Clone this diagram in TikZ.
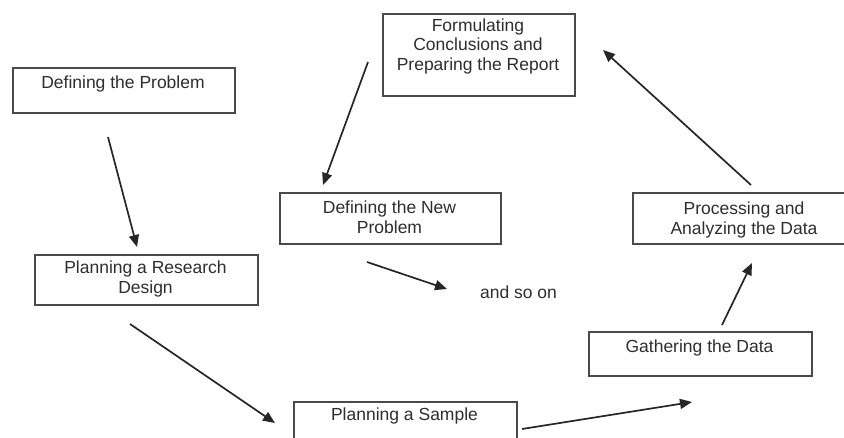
\documentclass[tikz,border=0pt]{standalone}
\usepackage{fontspec}
\setmainfont{Liberation Sans}
\usetikzlibrary{arrows.meta}
\definecolor{boxgray}{HTML}{4A4A4A}
\definecolor{txtgray}{HTML}{2E2E2E}
\definecolor{arrgray}{HTML}{262626}
\begin{document}
\begin{tikzpicture}[x=1pt,y=-1pt,
  box/.style={draw=boxgray, line width=1.6pt, fill=white, anchor=north west, inner sep=0pt},
  lbl/.style={text=txtgray, font=\fontsize{17.5}{19.5}\selectfont, align=center, inner sep=0pt},
  arr/.style={draw=arrgray, line width=1.7pt, -{Triangle[length=12pt,width=10pt]}}]
\useasboundingbox (0,0) rectangle (844,437);
\clip (0,0) rectangle (844,437);

% process boxes
\node[box, minimum width=222pt, minimum height=45pt] (define)   at (12,67)  {};
\node[box, minimum width=192pt, minimum height=82pt] (conclude) at (382,13) {};
\node[box, minimum width=221pt, minimum height=51pt] (newprob)  at (279,192) {};
\node[box, minimum width=224pt, minimum height=51pt] (process)  at (632,192) {};
\node[box, minimum width=223pt, minimum height=50pt] (design)   at (34,254) {};
\node[box, minimum width=223pt, minimum height=44pt] (gather)   at (588,331) {};
\node[box, minimum width=223pt, minimum height=50pt] (sample)   at (293,401) {};

% box captions
\node[lbl] (tdefine)   at (123,84)    {Defining the Problem};
\node[lbl] (tconclude) at (478,46)    {Formulating\\Conclusions and\\Preparing the Report};
\node[lbl] (tnewprob)  at (389.5,217) {Defining the New\\Problem};
\node[lbl] (tprocess)  at (744,220)   {Processing and\\Analyzing the Data};
\node[lbl] (tdesign)   at (145.5,279) {Planning a Research\\Design};
\node[lbl] (tgather)   at (699.5,348) {Gathering the Data};
\node[lbl] (tsample)   at (404.5,416) {Planning a Sample};
\node[lbl] (soon)      at (518.5,292) {and so on};

% arrow end points
\coordinate (a1s) at (108,137); \coordinate (a1e) at (137,247);
\coordinate (a2s) at (130,324); \coordinate (a2e) at (275,423);
\coordinate (a3s) at (522,429); \coordinate (a3e) at (692,402);
\coordinate (a4s) at (722,325); \coordinate (a4e) at (752,263);
\coordinate (a5s) at (751,185); \coordinate (a5e) at (603,50);
\coordinate (a6s) at (368,62);  \coordinate (a6e) at (323,185);
\coordinate (a7s) at (367,262); \coordinate (a7e) at (447,289);

\draw[arr] (a1s) -- (a1e);
\draw[arr] (a2s) -- (a2e);
\draw[arr] (a3s) -- (a3e);
\draw[arr] (a4s) -- (a4e);
\draw[arr] (a5s) -- (a5e);
\draw[arr] (a6s) -- (a6e);
\draw[arr] (a7s) -- (a7e);
\end{tikzpicture}
\end{document}
